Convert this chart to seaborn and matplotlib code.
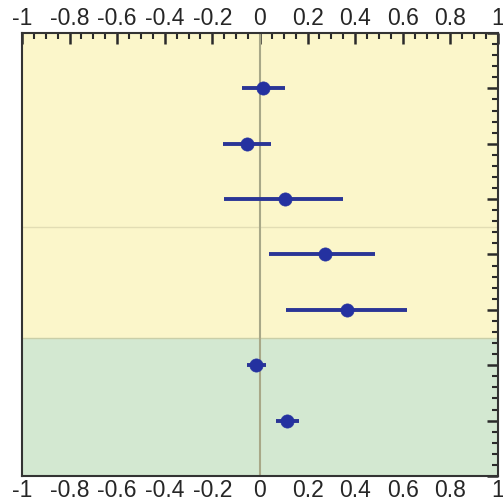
import matplotlib
matplotlib.use("Agg")
import matplotlib.pyplot as plt
import seaborn as sns
import numpy as np
import pandas as pd
from matplotlib.ticker import MultipleLocator, FixedLocator

rows = [1, 2, 3, 4, 5, 6, 7]
estimate = [0.014, -0.056, 0.105, 0.273, 0.364, -0.017, 0.115]
ci_low = [-0.074, -0.157, -0.151, 0.038, 0.109, -0.056, 0.067]
ci_high = [0.105, 0.045, 0.350, 0.483, 0.619, 0.025, 0.164]
xtick_vals = [-1, -0.8, -0.6, -0.4, -0.2, 0, 0.2, 0.4, 0.6, 0.8, 1]
xtick_labels = ["-1", "-0.8", "-0.6", "-0.4", "-0.2", "0", "0.2", "0.4", "0.6", "0.8", "1"]

df = pd.DataFrame({"row": rows, "est": estimate, "lo": ci_low, "hi": ci_high})

sns.set_style("white")
plt.rcParams['font.family'] = ['Liberation Sans', 'DejaVu Sans']

fig = plt.figure(figsize=(5.03, 5.04), dpi=100)
ax = fig.add_axes([0.0437, 0.0556, 0.9463, 0.8789])

ax.set_xlim(-1, 1)
ax.set_ylim(8, 0)

ax.axhspan(0, 5.5, color="#FBF6CA", zorder=0, lw=0)
ax.axhspan(5.5, 8, color="#D3E8D1", zorder=0, lw=0)
ax.axhline(3.5, color="#E2DDB4", lw=1, zorder=1)
ax.axhline(5.5, color="#C9CFA8", lw=1, zorder=1)
ax.axvline(0, color="#A8A888", lw=1.5, zorder=1)

ax.hlines(df["row"], df["lo"], df["hi"], color="#2A3596", lw=2.8, zorder=3)
sns.scatterplot(data=df, x="est", y="row", ax=ax, color="#2431A0", s=90,
                edgecolor="#2431A0", linewidth=0.5, zorder=4, legend=False)

ax.set_xlabel("")
ax.set_ylabel("")

ax.set_xticks(xtick_vals)
ax.set_xticklabels(xtick_labels)
ax.xaxis.set_minor_locator(MultipleLocator(0.05))
ax.tick_params(axis="x", which="both", top=True, bottom=False, labeltop=True,
               labelbottom=True, direction="in", labelsize=16.5, color="#2a2a2a")
ax.tick_params(axis="x", which="major", length=8, width=1.8, pad=2)
ax.tick_params(axis="x", which="minor", length=4, width=1.5)

ax.yaxis.set_major_locator(FixedLocator([0, 1, 2, 3, 4, 5, 6, 7, 8]))
ax.yaxis.set_minor_locator(MultipleLocator(0.2))
ax.tick_params(axis="y", which="both", left=False, right=True, labelleft=False,
               labelright=False, direction="in", color="#2a2a2a")
ax.tick_params(axis="y", which="major", length=8, width=1.8)
ax.tick_params(axis="y", which="minor", length=4, width=1.5)

for s in ax.spines.values():
    s.set_visible(True)
    s.set_color("#333333")
    s.set_linewidth(1.5)

fig.savefig("out.png", dpi=100)
